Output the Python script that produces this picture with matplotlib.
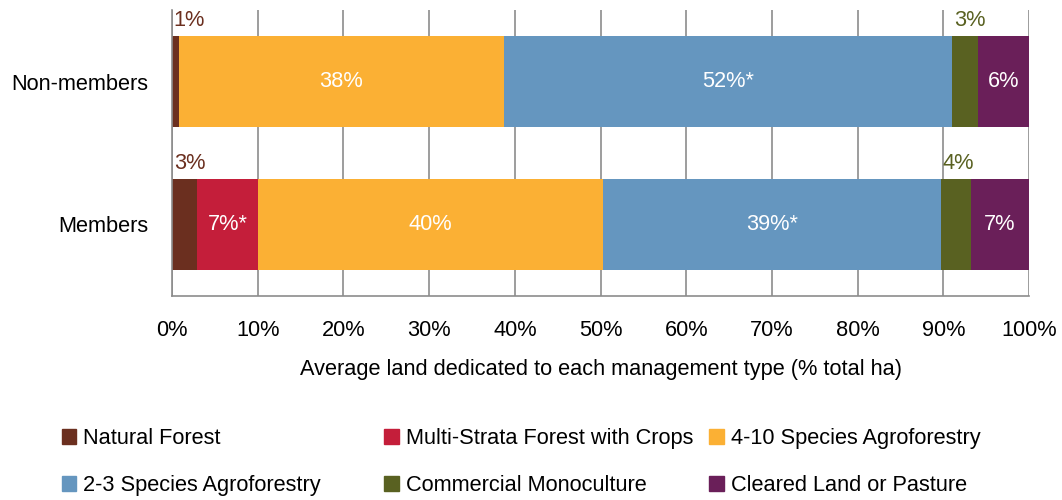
import matplotlib.pyplot as plt
from matplotlib.patches import Patch

plt.rcParams['font.family'] = ['Liberation Sans', 'DejaVu Sans']
FS = 15.7

# groups, bottom to top
groups = ["Members", "Non-members"]

series = ["Natural Forest", "Multi-Strata Forest with Crops", "4-10 Species Agroforestry",
          "2-3 Species Agroforestry", "Commercial Monoculture", "Cleared Land or Pasture"]
colors = ["#6B2F1F", "#C41E3A", "#FBB034", "#6596BF", "#596121", "#6A1F59"]

# share of land (%) per series, [Members, Non-members]
natural = [2.9, 0.8]
multi_strata = [7.1, 0.0]
agro_4_10 = [40.3, 37.9]
agro_2_3 = [39.4, 52.3]
monoculture = [3.5, 3.0]
cleared = [6.8, 6.0]
values = [natural, multi_strata, agro_4_10, agro_2_3, monoculture, cleared]

# significance marks after the label
stars = [["", ""], ["*", ""], ["", ""], ["*", "*"], ["", ""], ["", ""]]
# small segments get their label above the bar, in the segment colour
outside = [True, False, False, False, True, False]

fig = plt.figure(figsize=(10.62, 5), dpi=100)
ax = fig.add_axes([0.162, 0.408, 0.807, 0.572])

ypos = range(len(groups))
left = [0.0, 0.0]
bar_h = 0.636
for name, vals, col, st, out in zip(series, values, colors, stars, outside):
    ax.barh(ypos, vals, left=left, height=bar_h, color=col, zorder=2)
    for i, v in enumerate(vals):
        if v <= 0:
            continue
        txt = f"{round(v):d}%{st[i]}"
        if out:
            ax.text(left[i] + 0.2, i + bar_h / 2 + 0.035, txt, ha="left", va="bottom",
                    color=col, fontsize=FS)
        else:
            ax.text(left[i] + v / 2, i, txt, ha="center", va="center",
                    color="white", fontsize=FS)
        left[i] += v

ax.set_xlim(0, 100)
ax.set_ylim(-0.5, 1.5)
ax.set_xticks(range(0, 101, 10))
ax.set_xticklabels([f"{t}%" for t in range(0, 101, 10)])
ax.set_yticks(list(ypos))
ax.set_yticklabels(groups)
ax.tick_params(axis="both", length=0, labelsize=FS)
ax.tick_params(axis="y", pad=17)
ax.tick_params(axis="x", pad=17)
ax.grid(axis="x", color="#8C8C8C", linewidth=1.2, zorder=0)
for s in ["top", "right"]:
    ax.spines[s].set_visible(False)
for s in ["left", "bottom"]:
    ax.spines[s].set_color("#8C8C8C")
    ax.spines[s].set_linewidth(1.2)
ax.set_xlabel("Average land dedicated to each management type (% total ha)",
              fontsize=FS, labelpad=13)

# legend: three fixed-width columns, two rows each
handles = [Patch(color=c, label=n) for c, n in zip(colors, series)]
col_x = [0.058, 0.362, 0.668]
for k, x in enumerate(col_x):
    idx = [k, k + 3]
    fig.legend([handles[j] for j in idx], [series[j] for j in idx],
               loc="center left", bbox_to_anchor=(x, 0.076), ncol=1, frameon=False,
               fontsize=FS, handlelength=0.65, handleheight=0.65, handletextpad=0.35,
               labelspacing=1.2, borderaxespad=0, borderpad=0)

fig.savefig("out.png", dpi=100)
